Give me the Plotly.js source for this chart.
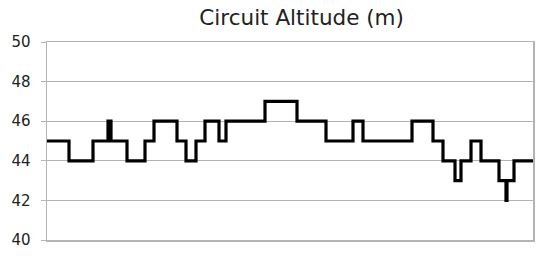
<!DOCTYPE html>
<html>
<head>
<meta charset="utf-8">
<script src="https://cdn.plot.ly/plotly-3.0.1.min.js"></script>
<style>html,body{margin:0;padding:0;background:#fff;}#chart{width:540px;height:256px;}</style>
</head>
<body>
<div id="chart"></div>
<script>
// Distance along the circuit (arbitrary sample units) where altitude changes
const distance = [0, 22, 46, 61, 64, 80, 98, 107, 130, 139, 149, 158, 172, 179, 218, 250, 279, 306, 316, 365, 386, 396, 408, 414, 424, 434, 452, 459, 460, 467, 486];
// Altitude (m) from each change point onwards
const altitude = [45, 44, 45, 46, 45, 44, 45, 46, 45, 44, 45, 46, 45, 46, 47, 46, 45, 46, 45, 46, 45, 44, 43, 44, 45, 44, 43, 42, 43, 44, 44];
const yTicks = [40, 42, 44, 46, 48, 50];

const trace = {
  x: distance,
  y: altitude,
  type: 'scatter',
  mode: 'lines',
  line: {shape: 'hv', color: '#000000', width: 3.2},
  hoverinfo: 'skip'
};

const axisGray = '#b3b3b3';
const layout = {
  width: 540,
  height: 256,
  margin: {l: 47, r: 7, t: 42, b: 16, pad: 0},
  paper_bgcolor: '#ffffff',
  plot_bgcolor: '#ffffff',
  showlegend: false,
  title: {
    text: 'Circuit Altitude (m)',
    font: {family: 'DejaVu Sans', size: 21.5, color: '#222222'},
    x: 0.524, xanchor: 'center', xref: 'paper',
    y: 0.93, yanchor: 'middle'
  },
  xaxis: {
    range: [0, 486],
    showgrid: false,
    zeroline: false,
    showticklabels: false,
    ticks: '',
    showline: true,
    linecolor: axisGray,
    linewidth: 1.5,
    mirror: true,
    fixedrange: true
  },
  yaxis: {
    range: [40, 50],
    tickvals: yTicks,
    ticktext: yTicks.map(String),
    showgrid: true,
    gridcolor: axisGray,
    gridwidth: 1.2,
    zeroline: false,
    ticks: 'outside',
    ticklen: 5,
    tickcolor: axisGray,
    tickwidth: 1,
    ticklabelstandoff: 7,
    tickfont: {family: 'DejaVu Sans', size: 15, color: '#222222'},
    showline: true,
    linecolor: axisGray,
    linewidth: 1.5,
    mirror: true,
    fixedrange: true
  }
};

Plotly.newPlot('chart', [trace], layout, {staticPlot: true, displayModeBar: false});
</script>
</body>
</html>
